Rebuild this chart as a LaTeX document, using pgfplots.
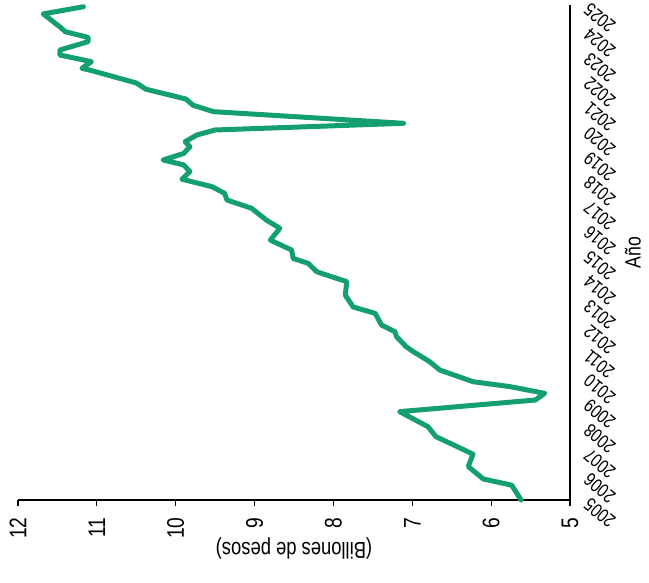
\documentclass[border=0pt]{standalone}
\usepackage{fontspec}
\setmainfont{Liberation Sans}[FakeStretch=0.8]
\usepackage{pgfplots}
\pgfplotsset{compat=1.18}
\definecolor{lg}{RGB}{20,160,110}
\begin{document}
\begin{tikzpicture}
\path[use as bounding box] (-18pt,-82pt) rectangle (631pt,500pt);
\begin{axis}[
  at={(0pt,0pt)}, anchor=south west,
  width=552pt, height=495pt, scale only axis,
  xmin=5, xmax=12, x dir=reverse,
  ymin=2005, ymax=2025,
  axis x line*=bottom, axis y line*=right,
  xtick={5,6,7,8,9,10,11,12},
  ytick={2005,2006,...,2025},
  /pgf/number format/assume math mode=true,
  x tick label style={/pgf/number format/1000 sep={}},
  y tick label style={/pgf/number format/1000 sep={}},
  xticklabel style={rotate=90, anchor=east, font=\fontsize{24}{24}\selectfont},
  xticklabel shift=8pt,
  yticklabel style={rotate=140, anchor=east, font=\fontsize{19}{19}\selectfont},
  yticklabel shift=8pt,
  tick align=outside,
  major tick length=6pt,
  x tick style={black, line width=1.2pt},
  y tick style={draw=none},
  axis line style={black, line width=1.2pt},
  xlabel={(Billones de pesos)},
  xlabel style={rotate=180, anchor=south, font=\fontsize{23}{23}\selectfont, yshift=-8pt},
  ylabel={Año},
  ylabel style={font=\fontsize{22}{22}\selectfont, yshift=-2pt, inner sep=1pt},
  clip=false,
]
\addplot[color=lg, line width=5pt, line join=round, line cap=round] coordinates {
(5.62,2005.00)
(5.74,2005.60)
(6.10,2005.85)
(6.29,2006.35)
(6.23,2006.85)
(6.36,2007.05)
(6.70,2007.56)
(6.80,2007.96)
(7.16,2008.57)
(5.44,2009.04)
(5.32,2009.31)
(5.76,2009.58)
(6.23,2009.78)
(6.65,2010.25)
(6.78,2010.59)
(6.99,2011.00)
(7.08,2011.20)
(7.20,2011.60)
(7.22,2011.80)
(7.39,2012.07)
(7.47,2012.54)
(7.75,2012.80)
(7.85,2013.28)
(7.83,2013.82)
(8.21,2014.22)
(8.32,2014.56)
(8.51,2014.76)
(8.53,2015.10)
(8.80,2015.50)
(8.68,2015.98)
(8.85,2016.31)
(9.04,2016.79)
(9.35,2017.12)
(9.38,2017.39)
(9.54,2017.66)
(9.92,2017.96)
(9.82,2018.27)
(9.90,2018.54)
(10.16,2018.74)
(9.90,2019.00)
(9.82,2019.27)
(9.88,2019.48)
(9.73,2019.75)
(9.50,2019.95)
(7.11,2020.22)
(9.52,2020.69)
(9.78,2020.95)
(9.87,2021.20)
(10.38,2021.60)
(10.50,2021.85)
(11.09,2022.37)
(11.19,2022.44)
(11.07,2022.71)
(11.47,2022.98)
(11.47,2023.18)
(11.11,2023.52)
(11.11,2023.69)
(11.40,2023.92)
(11.47,2024.12)
(11.68,2024.64)
(11.17,2024.93)
};
\end{axis}
\end{tikzpicture}
\end{document}
